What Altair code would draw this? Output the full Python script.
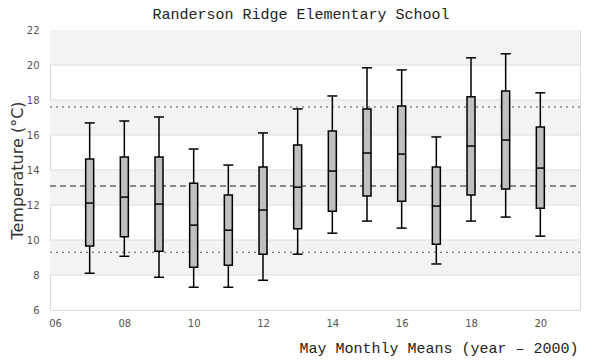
import altair as alt
import pandas as pd

# Data
years = [7, 8, 9, 10, 11, 12, 13, 14, 15, 16, 17, 18, 19, 20]
whisker_low = [8.10, 9.07, 7.87, 7.30, 7.30, 7.70, 9.19, 10.39, 11.08, 10.68, 8.63, 11.08, 11.31, 10.22]
q1 = [9.66, 10.18, 9.36, 8.44, 8.56, 9.19, 10.64, 11.65, 12.51, 12.22, 9.76, 12.57, 12.91, 11.82]
median = [12.11, 12.45, 12.05, 10.85, 10.56, 11.71, 13.02, 13.94, 14.97, 14.91, 11.94, 15.37, 15.71, 14.11]
q3 = [14.63, 14.74, 14.74, 13.25, 12.57, 14.17, 15.43, 16.23, 17.49, 17.66, 14.17, 18.18, 18.52, 16.46]
whisker_high = [16.69, 16.80, 17.03, 15.20, 14.28, 16.12, 17.49, 18.23, 19.84, 19.72, 15.89, 20.41, 20.64, 18.41]

band_lo = [8, 12, 16, 20]
band_hi = [10, 14, 18, 22]
grid_values = [8, 10, 12, 14, 16, 18, 20]
dotted_refs = [17.60, 9.30]
dashed_refs = [13.08]

x_ticks = [6, 8, 10, 12, 14, 16, 18, 20]
y_ticks = [6, 8, 10, 12, 14, 16, 18, 20, 22]

W, H = 530, 280

df = pd.DataFrame({
    "year": years, "lo": whisker_low, "q1": q1, "med": median,
    "q3": q3, "hi": whisker_high,
})
bands = pd.DataFrame({"lo": band_lo, "hi": band_hi})
grid = pd.DataFrame({"v": grid_values})
dotted = pd.DataFrame({"v": dotted_refs})
dashed = pd.DataFrame({"v": dashed_refs})

yscale = alt.Scale(domain=[6, 22], nice=False, zero=False)
xscale = alt.Scale(domain=[6, 21], nice=False, zero=False)

x_axis = alt.Axis(
    values=x_ticks,
    labelExpr="datum.value < 10 ? '0' + datum.value : '' + datum.value",
    grid=False, ticks=False, domain=False, labelOverlap=False,
    labelFont="DejaVu Sans", labelFontSize=10, labelColor="#555555",
    labelPadding=8,
    title="May Monthly Means (year \u2013 2000)",
    titleFont="Liberation Mono", titleFontSize=15, titleFontWeight="normal",
    titleColor="#222222", titleAlign="right", titleBaseline="middle",
    titleX=528, titleY=37, titleAngle=0,
)
y_axis = alt.Axis(
    values=y_ticks, grid=False, ticks=False, domain=False, labelOverlap=False,
    labelFont="DejaVu Sans", labelFontSize=10, labelColor="#555555",
    labelPadding=11,
    title="Temperature (\u00b0C)",
    titleFont="DejaVu Sans", titleFontSize=16, titleFontWeight="normal",
    titleColor="#333333", titleAngle=270, titleAlign="center",
    titleBaseline="middle", titleX=-33, titleY=H / 2,
)


def Y(field):
    return alt.Y(field, scale=yscale, axis=y_axis)


def X(field):
    return alt.X(field, scale=xscale, axis=x_axis)


band_layer = alt.Chart(bands).mark_rect(color="#f3f3f3").encode(
    x=alt.value(0), x2=alt.value(W),
    y=Y("lo:Q"), y2="hi:Q",
)
grid_layer = alt.Chart(grid).mark_rule(color="#dddddd", strokeWidth=1).encode(
    y=Y("v:Q"), x=alt.value(0), x2=alt.value(W),
)
dotted_layer = alt.Chart(dotted).mark_rule(
    color="#555555", strokeWidth=1.2, strokeDash=[2, 4]
).encode(y=Y("v:Q"), x=alt.value(0), x2=alt.value(W))
dashed_layer = alt.Chart(dashed).mark_rule(
    color="#666666", strokeWidth=1.5, strokeDash=[6, 4]
).encode(y=Y("v:Q"), x=alt.value(0), x2=alt.value(W))

base = alt.Chart(df)
whiskers = base.mark_rule(color="black", strokeWidth=1.5).encode(
    x=X("year:Q"), y=Y("lo:Q"), y2="hi:Q",
)
boxes = base.mark_bar(
    width=8, fill="#bfbfbf", stroke="black", strokeWidth=1.5, opacity=1
).encode(x=X("year:Q"), y=Y("q1:Q"), y2="q3:Q")
med_ticks = base.mark_tick(
    orient="horizontal", size=9, thickness=1.5, color="black", opacity=1
).encode(x=X("year:Q"), y=Y("med:Q"))
cap_lo = base.mark_tick(
    orient="horizontal", size=10, thickness=1.5, color="black", opacity=1
).encode(x=X("year:Q"), y=Y("lo:Q"))
cap_hi = base.mark_tick(
    orient="horizontal", size=10, thickness=1.5, color="black", opacity=1
).encode(x=X("year:Q"), y=Y("hi:Q"))

chart = alt.layer(
    band_layer, grid_layer, dotted_layer, dashed_layer,
    whiskers, boxes, med_ticks, cap_lo, cap_hi,
).properties(
    width=W, height=H,
    title=alt.TitleParams(
        "Randerson Ridge Elementary School",
        font="Liberation Mono", fontSize=15, fontWeight="normal",
        color="#222222", anchor="middle", dx=-14, offset=8, dy=5,
    ),
    autosize=alt.AutoSizeParams(type="none"),
    padding={"left": 42, "top": 22, "right": 10, "bottom": 46},
).configure_view(stroke="#dcdcdc", strokeWidth=1)

chart.save("out.html", embed_options={"renderer": "svg", "actions": False})
